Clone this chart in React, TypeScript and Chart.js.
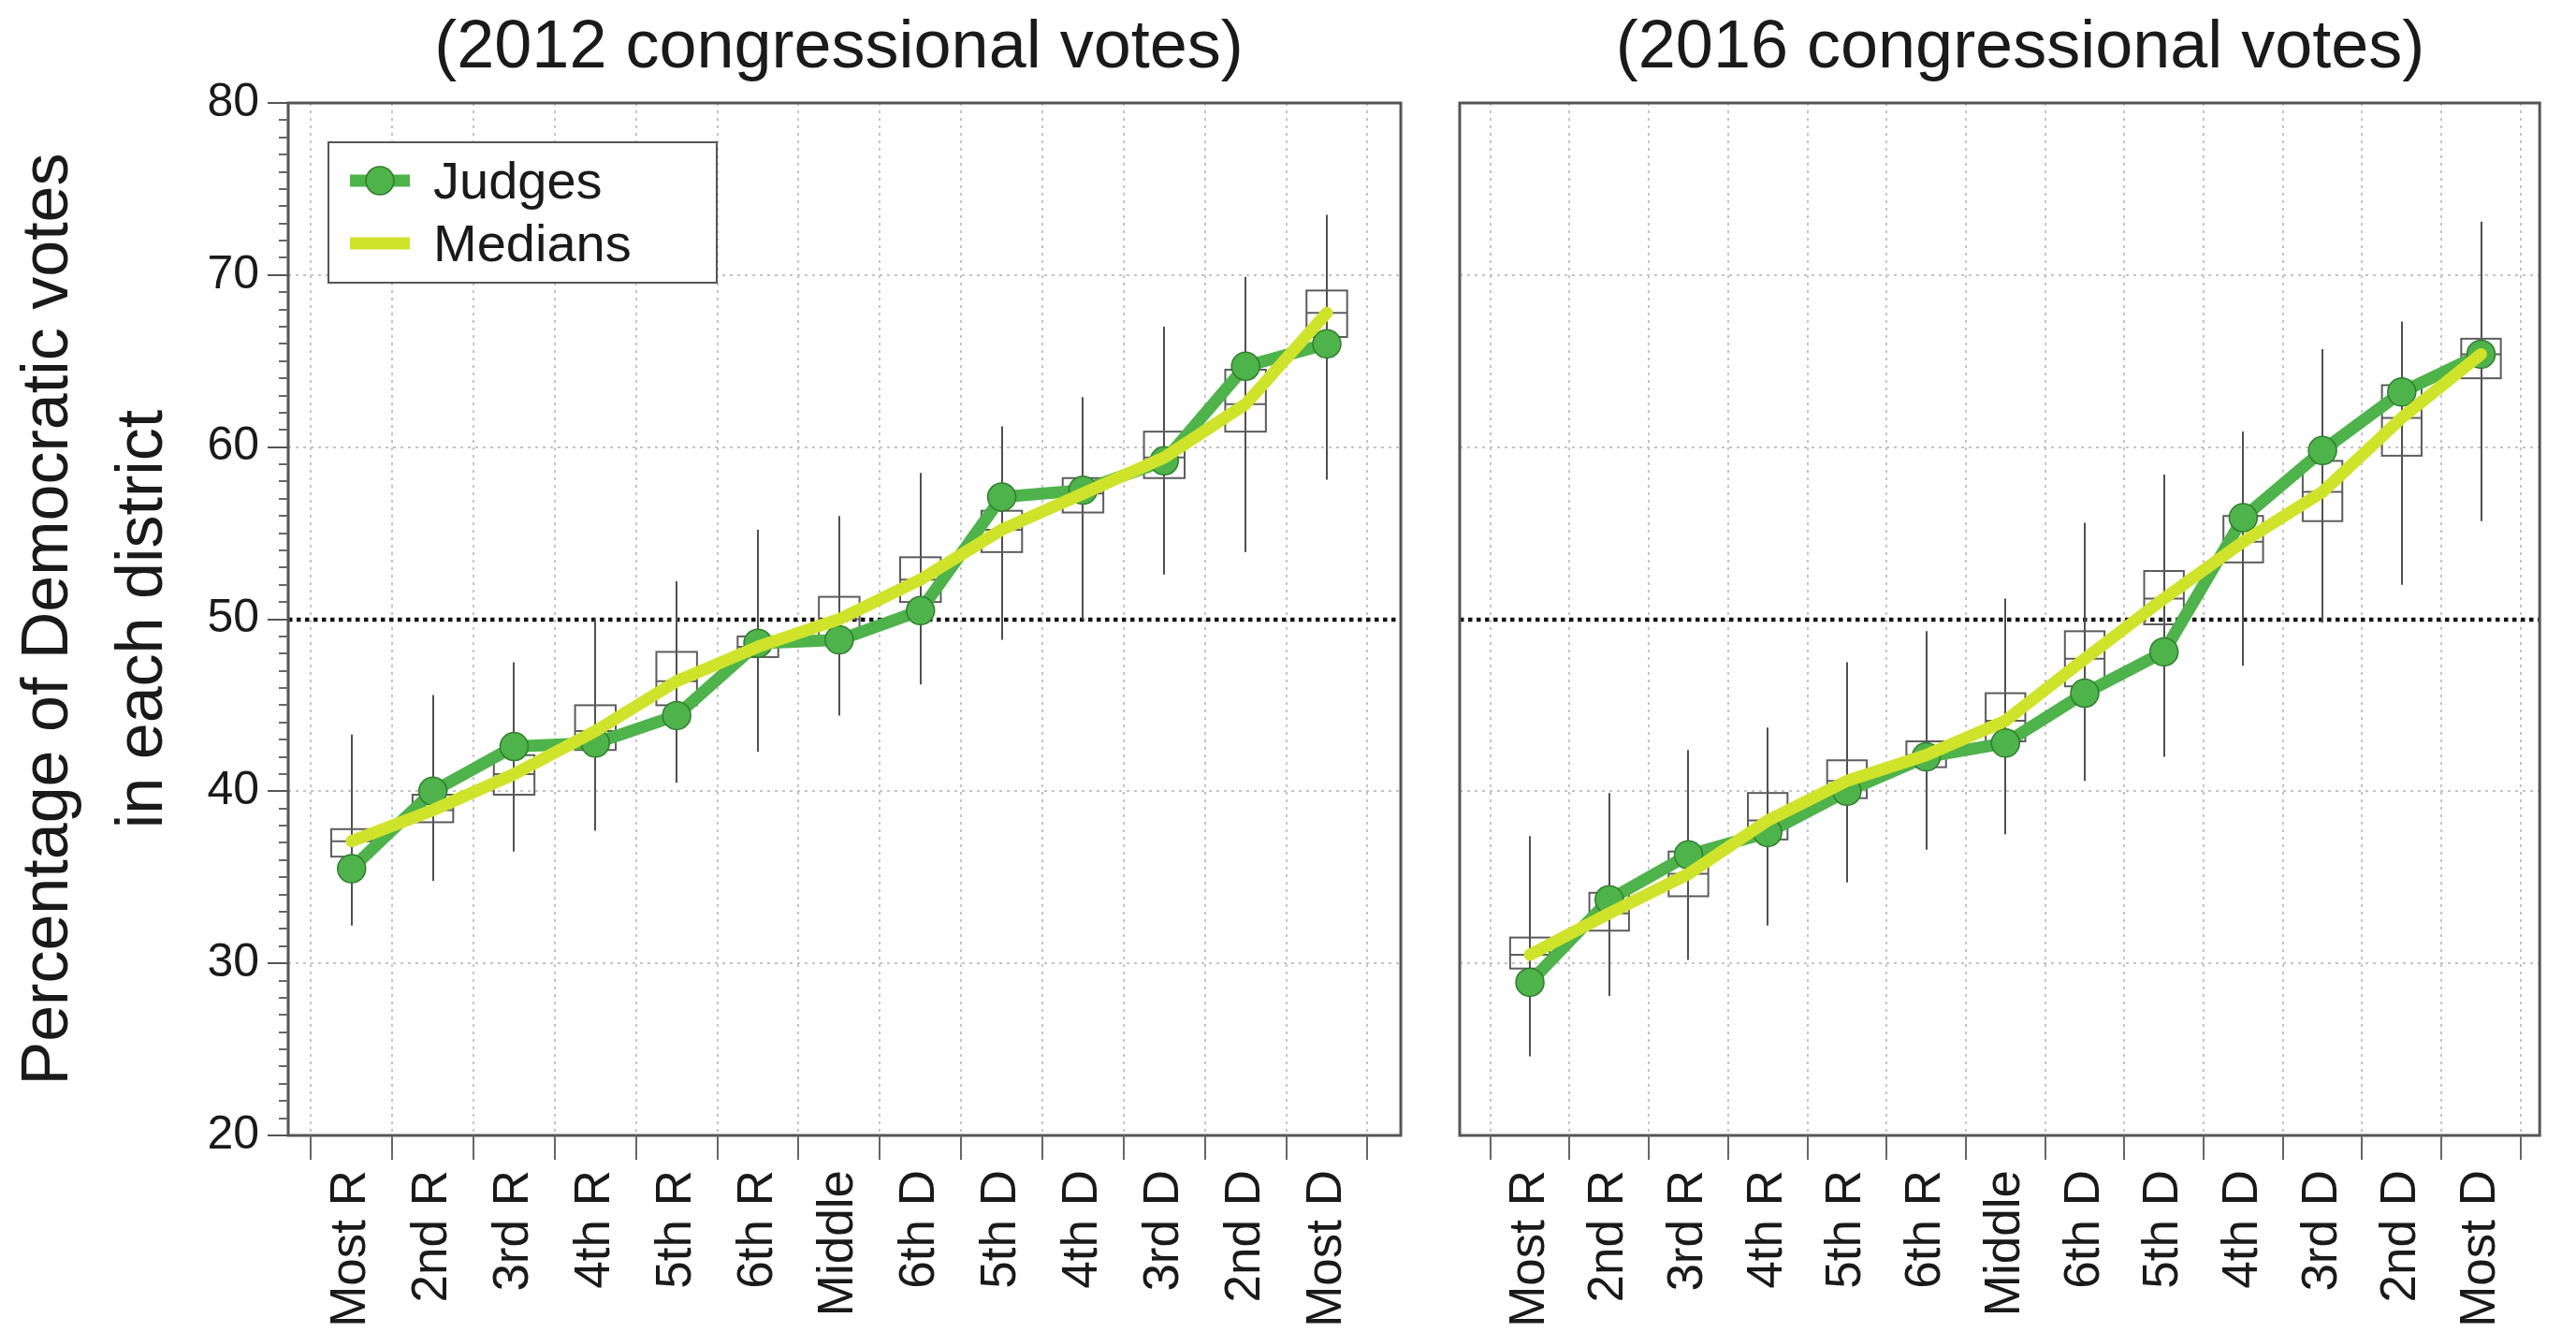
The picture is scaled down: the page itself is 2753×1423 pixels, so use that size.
import React, { useEffect, useRef } from 'react';
import { Chart, registerables } from 'chart.js';

Chart.register(...registerables);

// ---- data ---------------------------------------------------------------
const categories = ['Most R', '2nd R', '3rd R', '4th R', '5th R', '6th R', 'Middle', '6th D', '5th D', '4th D', '3rd D', '2nd D', 'Most D'];

const yTicks = [20, 30, 40, 50, 60, 70, 80];
const gridValues = [30, 40, 60, 70];
const evenSplit = 50;

// 2012 congressional votes
const judges2012 = [35.5, 40.0, 42.6, 42.8, 44.4, 48.6, 48.8, 50.5, 57.1, 57.5, 59.2, 64.7, 66.0];
const medians2012 = [37.1, 38.9, 41.0, 43.5, 46.4, 48.4, 50.0, 52.3, 55.2, 57.3, 59.4, 62.5, 67.8];
const q1_2012 = [36.2, 38.2, 39.8, 42.4, 45.0, 47.8, 49.0, 51.0, 53.9, 56.2, 58.2, 60.9, 66.4];
const q3_2012 = [37.8, 39.8, 42.1, 45.0, 48.1, 49.0, 51.3, 53.6, 56.3, 58.2, 60.9, 64.5, 69.1];
const low2012 = [32.2, 34.8, 36.5, 37.7, 40.5, 42.3, 44.4, 46.2, 48.8, 50.0, 52.6, 53.9, 58.1];
const high2012 = [43.3, 45.6, 47.5, 50.0, 52.2, 55.2, 56.0, 58.5, 61.2, 62.9, 67.0, 69.9, 73.5];

// 2016 congressional votes
const judges2016 = [28.9, 33.7, 36.3, 37.6, 40.0, 42.0, 42.8, 45.7, 48.1, 55.9, 59.8, 63.2, 65.4];
const medians2016 = [30.5, 32.9, 35.2, 38.3, 40.6, 42.1, 44.1, 47.7, 51.2, 54.5, 57.4, 61.7, 65.4];
const q1_2016 = [29.7, 31.9, 33.9, 37.2, 39.6, 41.4, 42.9, 46.1, 49.7, 53.3, 55.7, 59.5, 64.0];
const q3_2016 = [31.5, 34.1, 36.5, 39.9, 41.8, 42.9, 45.7, 49.3, 52.8, 56.0, 59.2, 63.6, 66.3];
const low2016 = [24.6, 28.1, 30.2, 32.2, 34.7, 36.6, 37.5, 40.6, 42.0, 47.3, 49.8, 52.0, 55.7];
const high2016 = [37.4, 39.9, 42.4, 43.7, 47.5, 49.3, 51.2, 55.6, 58.4, 60.9, 65.7, 67.3, 73.1];

// ---- styling ------------------------------------------------------------
const FONT = '"Liberation Sans", Arial, Helvetica, sans-serif';
const TEXT = '#1a1a1a';
const GREEN = '#4db34a';
const GREEN_EDGE = '#2f7d2d';
const LIME = '#cfe32a';
const PAGE_H = 1423;
const BOX_HALF = 0.25;

Chart.defaults.font.family = FONT;
Chart.defaults.color = TEXT;

type Panel = {
  title: string;
  judges: number[];
  medians: number[];
  q1: number[];
  q3: number[];
  low: number[];
  high: number[];
  xMin: number;
  xMax: number;
  left: number;
  width: number;
  yAxisWidth: number;
  padRight: number;
  showYAxis: boolean;
  showLegend: boolean;
  titleShift: number;
};

const panels: Panel[] = [
  {
    title: '(2012 congressional votes)',
    judges: judges2012, medians: medians2012, q1: q1_2012, q3: q3_2012, low: low2012, high: high2012,
    xMin: -0.78, xMax: 12.91, left: 0, width: 1520, yAxisWidth: 308, padRight: 21,
    showYAxis: true, showLegend: true, titleShift: -6,
  },
  {
    title: '(2016 congressional votes)',
    judges: judges2016, medians: medians2016, q1: q1_2016, q3: q3_2016, low: low2016, high: high2016,
    xMin: -0.886, xMax: 12.74, left: 1520, width: 1233, yAxisWidth: 40, padRight: 5,
    showYAxis: false, showLegend: false, titleShift: 22,
  },
];

function makeDecor(p: Panel) {
  return {
    id: 'panelDecor',
    beforeDatasetsDraw(chart: any) {
      const { ctx, chartArea: a } = chart;
      const x = chart.scales.x;
      const y = chart.scales.y;
      const seg = (x1: number, y1: number, x2: number, y2: number) => {
        ctx.beginPath();
        ctx.moveTo(x1, y1);
        ctx.lineTo(x2, y2);
        ctx.stroke();
      };
      ctx.save();
      ctx.lineCap = 'butt';

      // light dotted grid: column boundaries and decade lines
      ctx.strokeStyle = '#c4c4c4';
      ctx.lineWidth = 2;
      ctx.setLineDash([3, 5]);
      for (let i = 0; i <= categories.length; i++) {
        const px = Math.round(x.getPixelForValue(i - 0.5));
        seg(px, a.top, px, a.bottom);
      }
      for (const v of gridValues) {
        const py = Math.round(y.getPixelForValue(v));
        seg(a.left, py, a.right, py);
      }

      // 50% line
      ctx.strokeStyle = '#151515';
      ctx.lineWidth = 4.5;
      ctx.setLineDash([4.5, 4.5]);
      const p50 = Math.round(y.getPixelForValue(evenSplit));
      seg(a.left, p50, a.right, p50);

      // box plots of the simulated plans
      ctx.setLineDash([]);
      ctx.lineWidth = 2;
      categories.forEach((_, i) => {
        const cx = Math.round(x.getPixelForValue(i));
        const l = x.getPixelForValue(i - BOX_HALF);
        const r = x.getPixelForValue(i + BOX_HALF);
        ctx.strokeStyle = '#505050';
        seg(cx, y.getPixelForValue(p.low[i]), cx, y.getPixelForValue(p.high[i]));
        ctx.strokeStyle = '#5c5c5c';
        const t = y.getPixelForValue(p.q3[i]);
        const b = y.getPixelForValue(p.q1[i]);
        ctx.strokeRect(l, t, r - l, b - t);
        const m = y.getPixelForValue(p.medians[i]);
        seg(l, m, r, m);
      });

      // frame
      ctx.strokeStyle = '#555';
      ctx.lineWidth = 3;
      ctx.strokeRect(a.left, a.top, a.right - a.left, a.bottom - a.top);

      // x tick marks at column boundaries
      ctx.lineWidth = 2;
      ctx.strokeStyle = '#666';
      for (let i = 0; i <= categories.length; i++) {
        const px = Math.round(x.getPixelForValue(i - 0.5));
        seg(px, a.bottom, px, a.bottom + 26);
      }

      // minor y ticks
      if (p.showYAxis) {
        for (let v = yTicks[0] + 1; v < yTicks[yTicks.length - 1]; v++) {
          if (v % 10 === 0) continue;
          const py = Math.round(y.getPixelForValue(v));
          seg(a.left - 10, py, a.left, py);
        }
      }
      ctx.restore();
    },
    afterDatasetsDraw(chart: any) {
      if (!p.showLegend) return;
      const { ctx, chartArea: a } = chart;
      const lx = a.left + 43;
      const ly = a.top + 42;
      ctx.save();
      ctx.fillStyle = '#fff';
      ctx.fillRect(lx, ly, 415, 150);
      ctx.strokeStyle = '#555';
      ctx.lineWidth = 2;
      ctx.strokeRect(lx, ly, 415, 150);
      const rows = [ly + 41, ly + 108];
      chart.data.datasets.forEach((ds: any, k: number) => {
        const ry = rows[k];
        ctx.strokeStyle = ds.borderColor;
        ctx.lineWidth = ds.borderWidth;
        ctx.lineCap = 'butt';
        ctx.beginPath();
        ctx.moveTo(lx + 23, ry);
        ctx.lineTo(lx + 87, ry);
        ctx.stroke();
        if (ds.pointRadius > 0) {
          ctx.beginPath();
          ctx.arc(lx + 55, ry, ds.pointRadius, 0, Math.PI * 2);
          ctx.fillStyle = ds.pointBackgroundColor;
          ctx.fill();
          ctx.lineWidth = ds.pointBorderWidth;
          ctx.strokeStyle = ds.pointBorderColor;
          ctx.stroke();
        }
        ctx.fillStyle = TEXT;
        ctx.font = `56px ${FONT}`;
        ctx.textAlign = 'left';
        ctx.textBaseline = 'alphabetic';
        ctx.fillText(ds.label, lx + 112, ry + 19);
      });
      ctx.restore();
    },
    afterDraw(chart: any) {
      const { ctx, chartArea: a } = chart;
      ctx.save();
      ctx.fillStyle = TEXT;
      ctx.font = `72px ${FONT}`;
      ctx.textAlign = 'center';
      ctx.textBaseline = 'alphabetic';
      ctx.fillText(p.title, (a.left + a.right) / 2 + p.titleShift, 72);
      ctx.restore();
    },
  };
}

function PanelChart({ panel }: { panel: Panel }) {
  const ref = useRef<HTMLCanvasElement>(null);

  useEffect(() => {
    const canvas = ref.current;
    if (!canvas) return;
    const chart = new Chart(canvas, {
      type: 'line',
      data: {
        datasets: [
          {
            label: 'Judges',
            data: panel.judges.map((v, i) => ({ x: i, y: v })),
            borderColor: GREEN,
            backgroundColor: GREEN,
            borderWidth: 13,
            borderJoinStyle: 'round',
            borderCapStyle: 'round',
            pointRadius: 15,
            pointBackgroundColor: GREEN,
            pointBorderColor: GREEN_EDGE,
            pointBorderWidth: 1.5,
            tension: 0,
            order: 2,
          },
          {
            label: 'Medians',
            data: panel.medians.map((v, i) => ({ x: i, y: v })),
            borderColor: LIME,
            backgroundColor: LIME,
            borderWidth: 13,
            borderJoinStyle: 'round',
            borderCapStyle: 'round',
            pointRadius: 0,
            tension: 0,
            order: 1,
          },
        ],
      } as any,
      options: {
        responsive: false,
        animation: false,
        events: [],
        layout: { padding: { top: 110, left: 0, right: panel.padRight, bottom: 0 } },
        plugins: {
          legend: { display: false },
          tooltip: { enabled: false },
          title: { display: false },
        },
        scales: {
          x: {
            type: 'linear',
            min: panel.xMin,
            max: panel.xMax,
            afterBuildTicks: (s: any) => {
              s.ticks = categories.map((_, i) => ({ value: i }));
            },
            afterFit: (s: any) => {
              s.height = PAGE_H - 1213;
            },
            ticks: {
              autoSkip: false,
              minRotation: 90,
              maxRotation: 90,
              padding: 37,
              color: TEXT,
              font: { size: 53, family: FONT },
              callback: (v: any) => categories[v as number] ?? '',
            },
            grid: { display: false, drawTicks: false },
            border: { display: false },
          },
          y: {
            type: 'linear',
            min: yTicks[0],
            max: yTicks[yTicks.length - 1],
            afterBuildTicks: (s: any) => {
              s.ticks = yTicks.map((v) => ({ value: v }));
            },
            afterFit: (s: any) => {
              s.width = panel.yAxisWidth;
            },
            ticks: {
              display: panel.showYAxis,
              padding: 9,
              color: TEXT,
              font: { size: 50, family: FONT },
            },
            grid: {
              display: panel.showYAxis,
              drawOnChartArea: false,
              drawTicks: true,
              tickLength: 22,
              color: '#555',
              lineWidth: 2,
            },
            border: { display: false },
            title: {
              display: panel.showYAxis,
              text: ['Percentage of Democratic votes', 'in each district'],
              color: TEXT,
              font: { size: 70, family: FONT, lineHeight: 101 / 70 },
              padding: { top: 2, bottom: 0 },
            },
          },
        },
      } as any,
      plugins: [makeDecor(panel)],
    });
    return () => chart.destroy();
  }, [panel]);

  return (
    <canvas
      ref={ref}
      width={panel.width}
      height={PAGE_H}
      style={{ position: 'absolute', left: panel.left, top: 0, width: panel.width, height: PAGE_H, display: 'block' }}
    />
  );
}

export default function App() {
  return (
    <div style={{ position: 'absolute', left: 0, top: 0, width: 2753, height: PAGE_H, background: '#fff' }}>
      {panels.map((p) => (
        <PanelChart key={p.title} panel={p} />
      ))}
    </div>
  );
}
